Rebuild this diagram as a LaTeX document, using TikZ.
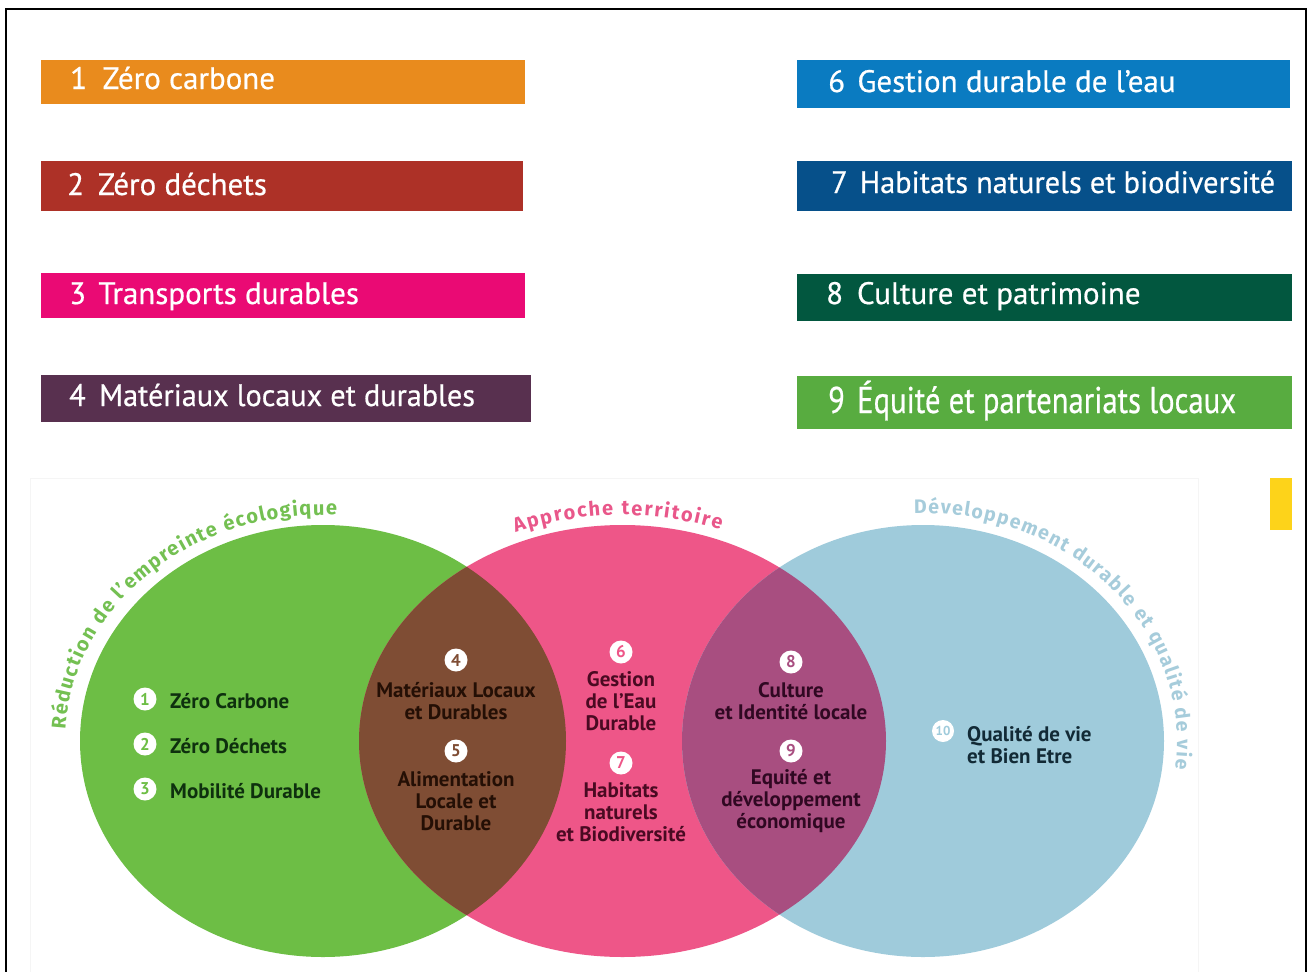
\documentclass[tikz,border=0pt]{standalone}
\usepackage{fontspec}
\setmainfont{PT Sans}
\newfontfamily\barfont{PT Sans}[FakeBold=0.6]
\newfontfamily\arcfont{Fira Sans}
\usetikzlibrary{decorations.text,calc}
\definecolor{cOrange}{HTML}{E98B1D}
\definecolor{cRed}{HTML}{AD3127}
\definecolor{cMagenta}{HTML}{EA0A74}
\definecolor{cPlum}{HTML}{58304F}
\definecolor{cBlue}{HTML}{0A7BC1}
\definecolor{cNavy}{HTML}{06508A}
\definecolor{cDkGreen}{HTML}{02573F}
\definecolor{cLtGreen}{HTML}{58AC40}
\definecolor{cYellow}{HTML}{FDD31A}
\definecolor{vGreen}{HTML}{6DBE45}
\definecolor{vPink}{HTML}{EE5688}
\definecolor{vBrown}{HTML}{7F4D34}
\definecolor{vPurple}{HTML}{A84E80}
\definecolor{vBlue}{HTML}{9FCBDB}
\definecolor{tGreen}{HTML}{0E300E}
\definecolor{tBrown}{HTML}{240F05}
\definecolor{tPink}{HTML}{4A0A22}
\definecolor{tPurple}{HTML}{300822}
\definecolor{tBlue}{HTML}{122A36}
\definecolor{aGreen}{HTML}{74C052}
\definecolor{aPink}{HTML}{E9578A}
\definecolor{aBlue}{HTML}{A6CCDB}
\begin{document}
\begin{tikzpicture}[x=1pt,y=-1pt,
  bar/.style={anchor=north west, inner sep=0pt, outer sep=0pt, draw=none},
  bartext/.style={anchor=base west, inner sep=0pt, text=white, font=\barfont\fontsize{31}{31}\selectfont},
  num/.style={circle, fill=white, inner sep=0pt, minimum size=23pt, font=\fontsize{17}{17}\selectfont\bfseries},
  vtext/.style={inner sep=0pt, align=center, font=\fontsize{21}{22}\selectfont\bfseries},
  vltext/.style={inner sep=0pt, anchor=west, align=left, font=\fontsize{21}{22}\selectfont\bfseries}
]
\useasboundingbox (0,0) rectangle (1310,972);
\fill[white] (0,0) rectangle (1310,972);
% outer frame
\draw[black, line width=1.8pt] (6,972) -- (6,9) -- (1306,9) -- (1306,972);
% faint background box
\draw[black!4, line width=0.8pt] (30,972) -- (30,478) -- (1198,478) -- (1198,972);

% ---- bars left
\node[bar, fill=cOrange, minimum width=484pt, minimum height=44pt] (b1) at (41,60) {};
\node[bar, fill=cRed, minimum width=482pt, minimum height=50pt] (b2) at (41,161) {};
\node[bar, fill=cMagenta, minimum width=484pt, minimum height=45pt] (b3) at (41,273) {};
\node[bar, fill=cPlum, minimum width=490pt, minimum height=47pt] (b4) at (41,375) {};
% ---- bars right
\node[bar, fill=cBlue, minimum width=493pt, minimum height=48pt] (b6) at (797,60) {};
\node[bar, fill=cNavy, minimum width=495pt, minimum height=50pt] (b7) at (797,161) {};
\node[bar, fill=cDkGreen, minimum width=495pt, minimum height=47pt] (b8) at (797,274) {};
\node[bar, fill=cLtGreen, minimum width=495pt, minimum height=53pt] (b9) at (797,376) {};
\node[bar, fill=cYellow, minimum width=22pt, minimum height=52pt] (by) at (1270,478) {};

\node[bartext] (t1) at (70,89) {1\hspace{0.5em}Zéro carbone};
\node[bartext] (t2) at (67,195) {2\hspace{0.45em}Zéro déchets};
\node[bartext] (t3) at (69,304) {3\hspace{0.4em}Transports durables};
\node[bartext] (t4) at (69,406) {\scalebox{0.975}[1]{4\hspace{0.45em}Matériaux locaux et durables}};
\node[bartext] (t6) at (828,92) {6\hspace{0.4em}Gestion durable de l’eau};
\node[bartext] (t7) at (831,193) {\scalebox{0.978}[1]{7\hspace{0.4em}Habitats naturels et biodiversité}};
\node[bartext] (t8) at (826,304) {8\hspace{0.45em}Culture et patrimoine};
\node[bartext] (t9) at (828,413) {\scalebox{0.99}[1.2]{9\hspace{0.4em}Équité et partenariats locaux}};

% ---- Venn
\fill[vGreen] (323,741) ellipse [x radius=243, y radius=216];
\fill[vPink] (622.5,741) ellipse [x radius=263.5, y radius=216];
\fill[vBlue] (923,741) ellipse [x radius=241, y radius=216];
\begin{scope}
  \clip (323,741) ellipse [x radius=243, y radius=216];
  \fill[vBrown] (622.5,741) ellipse [x radius=263.5, y radius=216];
\end{scope}
\begin{scope}
  \clip (923,741) ellipse [x radius=241, y radius=216];
  \fill[vPurple] (622.5,741) ellipse [x radius=263.5, y radius=216];
\end{scope}

% arc titles
\path[decorate, decoration={text along path, text align=fit to path, text color=aGreen,
   text={|\arcfont\fontsize{20}{20}\selectfont\bfseries|Réduction de l’empreinte écologique}}]
   ($(323,741)+(-177:258 and 226)$) arc[start angle=-177, end angle=-87, x radius=258, y radius=226];
\path[decorate, decoration={text along path, text align=fit to path, text color=aPink,
   text={|\arcfont\fontsize{20}{20}\selectfont\bfseries|Approche territoire}}]
   ($(622.5,741)+(-113:273.5 and 226)$) arc[start angle=-113, end angle=-69, x radius=273.5, y radius=226];
\path[decorate, decoration={text along path, text align=fit to path, text color=aBlue,
   text={|\arcfont\fontsize{19.5}{19.5}\selectfont\bfseries|Développement durable et qualité de vie}}]
   ($(923,741)+(-92:254 and 228)$) arc[start angle=-92, end angle=7, x radius=254, y radius=228];

% green items
\node[num, text=vGreen] (n1) at (145,699) {1};
\node[num, text=vGreen] (n2) at (145,744) {2};
\node[num, text=vGreen] (n3) at (145,789) {3};
\node[vltext, text=tGreen] (g1) at (170,701) {Zéro Carbone};
\node[vltext, text=tGreen] (g2) at (170,746) {Zéro Déchets};
\node[vltext, text=tGreen] (g3) at (170,791) {Mobilité Durable};

% brown lens
\node[num, text=vBrown] (n4) at (456,660) {4};
\node[vtext, text=tBrown] (l4) at (456,701) {Matériaux Locaux\\et Durables};
\node[num, text=vBrown] (n5) at (456,751) {5};
\node[vtext, text=tBrown] (l5) at (456,801) {Alimentation\\Locale et\\Durable};

% pink centre
\node[num, text=vPink] (n6) at (621,652) {6};
\node[vtext, text=tPink] (l6) at (621,701) {Gestion\\de l’Eau\\Durable};
\node[num, text=vPink] (n7) at (621,763) {7};
\node[vtext, text=tPink] (l7) at (621,812) {Habitats\\naturels\\et Biodiversité};

% purple lens
\node[num, text=vPurple] (n8) at (791,662) {8};
\node[vtext, text=tPurple] (l8) at (791,701) {Culture\\et Identité locale};
\node[num, text=vPurple] (n9) at (791,751) {9};
\node[vtext, text=tPurple] (l9) at (791,801) {Equité et\\développement\\économique};

% blue
\node[num, minimum size=22pt, font=\fontsize{13}{13}\selectfont\bfseries, text=vBlue] (n10) at (943,731) {10};
\node[vltext, text=tBlue] (l10) at (967,745) {Qualité de vie\\et Bien Etre};
\end{tikzpicture}
\end{document}
